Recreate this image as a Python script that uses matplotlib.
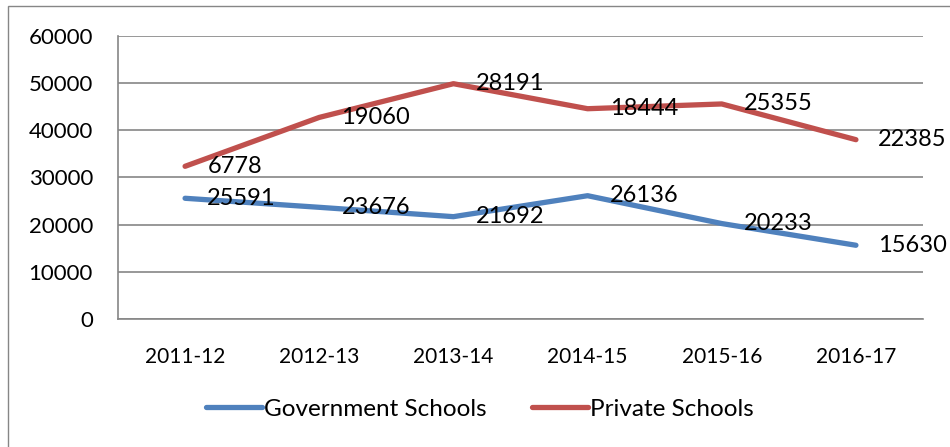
import matplotlib.pyplot as plt
from matplotlib.patches import Rectangle

# Data (private schools plotted stacked on government, as in the source chart)
years = ['2011-12', '2012-13', '2013-14', '2014-15', '2015-16', '2016-17']
govt = [25591, 23676, 21692, 26136, 20233, 15630]
private = [6778, 19060, 28191, 18444, 25355, 22385]

plt.rcParams['font.family'] = ['Lato', 'DejaVu Sans']

fig = plt.figure(figsize=(9.5, 4.47), dpi=100)
ax = fig.add_axes([0.1242, 0.2864, 0.8474, 0.6331])

# outer chart border
fig.patches.append(Rectangle((8 / 950, -0.1), 1.2, 1 - 6 / 447 + 0.1, transform=fig.transFigure,
                             fill=False, edgecolor='#868686', linewidth=1.0))

x = list(range(len(years)))
stacked = [g + p for g, p in zip(govt, private)]

ax.plot(x, govt, color='#4F81BD', linewidth=3.8, solid_capstyle='round', label='Government Schools')
ax.plot(x, stacked, color='#C0504D', linewidth=3.8, solid_capstyle='round', label='Private Schools')

for xi, yi, v in zip(x, govt, govt):
    ax.annotate(str(v), (xi, yi), xytext=(16, 0), textcoords='offset points',
                ha='left', va='center', fontsize=17)
for xi, yi, v in zip(x, stacked, private):
    ax.annotate(str(v), (xi, yi), xytext=(16, 0), textcoords='offset points',
                ha='left', va='center', fontsize=17)

ax.set_xlim(-0.5, len(years) - 0.5)
ax.set_ylim(0, 60000)
ax.set_yticks(range(0, 60001, 10000))
ax.set_xticks(x)
ax.set_xticklabels(years)
ax.tick_params(axis='both', length=0, labelsize=16, pad=18)
ax.tick_params(axis='x', labelsize=15, pad=20)
ax.yaxis.grid(True, color='#868686', linewidth=1.2)
ax.set_axisbelow(True)
for s in ['top', 'right']:
    ax.spines[s].set_visible(False)
for s in ['left', 'bottom']:
    ax.spines[s].set_color('#868686')
    ax.spines[s].set_linewidth(1.2)

fig.legend(loc='center', bbox_to_anchor=(0.505, 1 - 409 / 447), ncol=2, frameon=False,
           fontsize=17.5, handlelength=2.3, handletextpad=0.1, columnspacing=1.85)

fig.savefig('out.png', dpi=100)
